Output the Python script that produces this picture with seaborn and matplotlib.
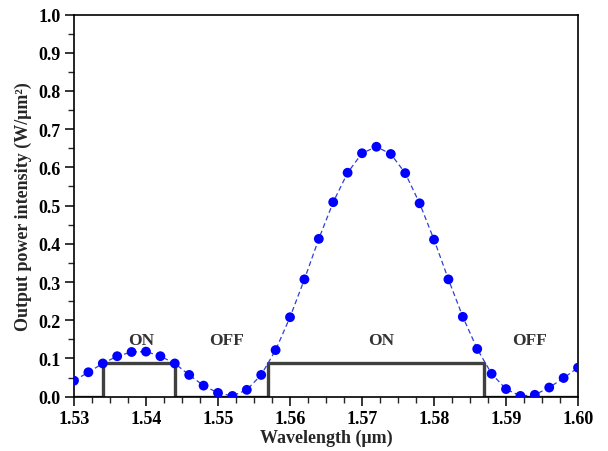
import numpy as np
import pandas as pd
import matplotlib
matplotlib.use("Agg")
import matplotlib.pyplot as plt
from matplotlib.ticker import MultipleLocator
import seaborn as sns

# measured output power (dots), every 0.002 um
wavelength = [1.530, 1.532, 1.534, 1.536, 1.538, 1.540, 1.542, 1.544, 1.546,
              1.548, 1.550, 1.552, 1.554, 1.556, 1.558, 1.560, 1.562, 1.564,
              1.566, 1.568, 1.570, 1.572, 1.574, 1.576, 1.578, 1.580, 1.582,
              1.584, 1.586, 1.588, 1.590, 1.592, 1.594, 1.596, 1.598, 1.600]
power = [0.042, 0.064, 0.087, 0.106, 0.117, 0.118, 0.106, 0.087, 0.057,
         0.029, 0.010, 0.002, 0.018, 0.057, 0.122, 0.208, 0.307, 0.413,
         0.509, 0.586, 0.637, 0.654, 0.635, 0.585, 0.506, 0.411, 0.307,
         0.209, 0.125, 0.060, 0.020, 0.002, 0.005, 0.024, 0.049, 0.076]

# ON/OFF switching levels (step edges)
step_edges = [1.530, 1.534, 1.544, 1.557, 1.587, 1.600]
step_levels = [0.0, 0.087, 0.0, 0.087, 0.0, 0.0]

state_labels = ["ON", "OFF", "ON", "OFF"]
state_x = [1.5393, 1.5512, 1.5726, 1.5933]
state_y = 0.148

sns.set_style("ticks")
plt.rcParams["font.family"] = ["Liberation Serif", "DejaVu Serif"]
plt.rcParams["font.weight"] = "bold"

fig = plt.figure(figsize=(6.08, 4.52), dpi=100)
ax = fig.add_axes([0.1217, 0.1201, 0.829, 0.8456])

df = pd.DataFrame({"wavelength": wavelength, "power": power})
steps = pd.DataFrame({"wavelength": step_edges, "level": step_levels})

sns.lineplot(data=steps, x="wavelength", y="level", ax=ax, color="#404040",
             linewidth=2.4, drawstyle="steps-post", zorder=2)
sns.lineplot(data=df, x="wavelength", y="power", ax=ax, color="#3040d0",
             linewidth=0.9, linestyle=(0, (4, 2.5)), zorder=3)
sns.scatterplot(data=df, x="wavelength", y="power", ax=ax, color="#0000ff",
                s=50, edgecolor="none", zorder=4)

for lab, xx in zip(state_labels, state_x):
    ax.text(xx, state_y, lab, ha="center", va="center", fontsize=12.5,
            fontweight="bold", color="#333333")

ax.set_xlim(1.53, 1.60)
ax.set_ylim(0.0, 1.0)
ax.xaxis.set_major_locator(MultipleLocator(0.01))
ax.xaxis.set_minor_locator(MultipleLocator(0.0025))
ax.yaxis.set_major_locator(MultipleLocator(0.1))
ax.yaxis.set_minor_locator(MultipleLocator(0.05))
ax.xaxis.set_major_formatter(plt.FuncFormatter(lambda v, p: f"{v:.2f}"))
ax.yaxis.set_major_formatter(plt.FuncFormatter(lambda v, p: f"{v:.1f}"))

ax.tick_params(which="major", direction="out", length=6.5, width=1.1,
               labelsize=13, colors="black", top=False, right=False, pad=3)
ax.tick_params(which="minor", direction="out", length=4, width=1.0,
               top=False, right=False)
for lbl in ax.get_xticklabels() + ax.get_yticklabels():
    lbl.set_fontweight("bold")

for s in ax.spines.values():
    s.set_linewidth(1.2)
    s.set_color("black")
    s.set_visible(True)

ax.set_xlabel("Wavelength (μm)", fontsize=13, fontweight="bold", labelpad=1)
ax.set_ylabel("Output power intensity (W/μm²)", fontsize=13,
              fontweight="bold", labelpad=5)

fig.savefig("out.png", dpi=100)
